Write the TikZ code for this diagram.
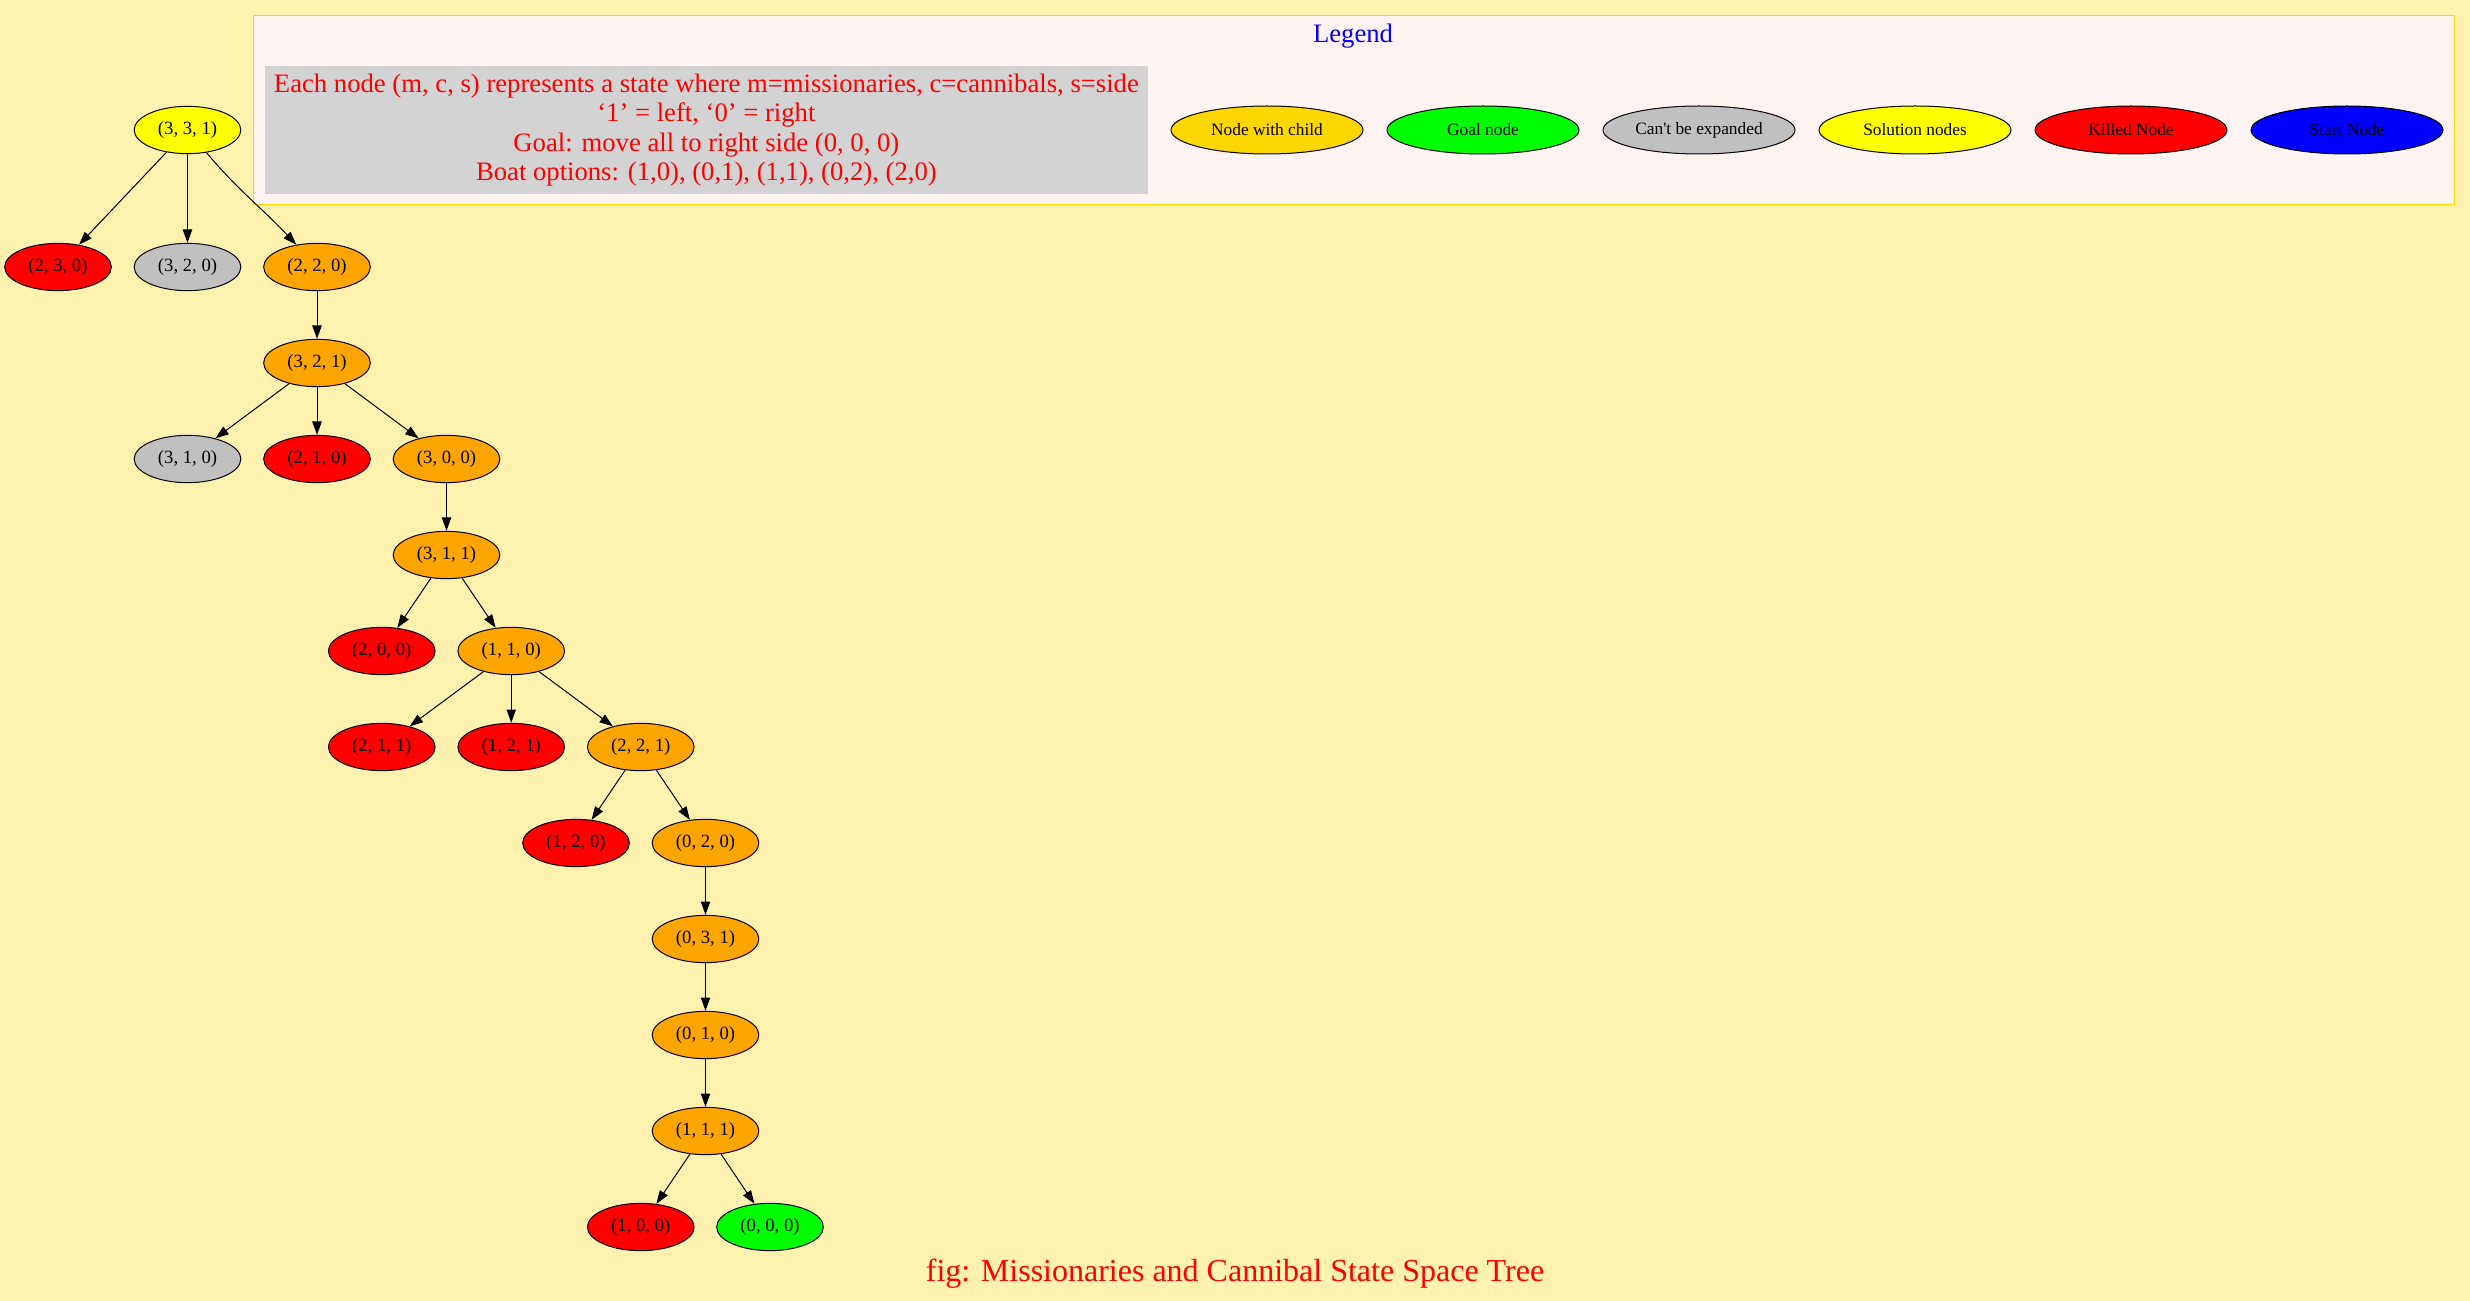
\documentclass[tikz,border=0pt]{standalone}
\usepackage{fontspec}
\setmainfont{Liberation Serif}
\newfontfamily\plainserif{Liberation Serif}[Ligatures=NoCommon]
\usetikzlibrary{arrows.meta,shapes.geometric}
\definecolor{bgc}{RGB}{255,242,175}
\definecolor{legfill}{RGB}{255,244,242}
\definecolor{legborder}{RGB}{255,215,0}
\definecolor{boxgray}{RGB}{211,211,211}
\definecolor{cgold}{RGB}{255,215,0}
\definecolor{cgreen}{RGB}{0,255,0}
\definecolor{cgray}{RGB}{192,192,192}
\definecolor{cyellow}{RGB}{255,255,0}
\definecolor{cred}{RGB}{255,0,0}
\definecolor{cblue}{RGB}{0,0,255}
\definecolor{corange}{RGB}{255,165,0}
\tikzset{
  st/.style={ellipse,draw=black,line width=0.75pt,minimum width=80pt,minimum height=35.5pt,inner sep=0pt,font=\fontsize{14}{16}\selectfont},
  lg/.style={ellipse,draw=black,line width=0.75pt,minimum width=144pt,minimum height=36pt,inner sep=0pt,font=\fontsize{13}{15}\selectfont},
  edge/.style={line width=0.75pt,-{Triangle[length=10pt,width=7pt]}},
}
\begin{document}
\begin{tikzpicture}[x=0.75pt,y=-0.75pt]
\fill[bgc] (0,0) rectangle (2470,1301);
\useasboundingbox (0,0) rectangle (2470,1301);
% legend
\node[draw=legborder,fill=legfill,line width=0.75pt,minimum width=1650.75pt,minimum height=141.75pt,inner sep=0pt,anchor=north west] (legbox) at (252.5,15.5) {};
\node[text=cblue,font=\fontsize{20}{24}\selectfont] (legtitle) at (1353,36) {Legend};
\node[fill=boxgray,minimum width=662.5pt,minimum height=96pt,inner sep=0pt,text=cred,align=center,font=\fontsize{20}{22}\selectfont] (info) at (706.4,130) {Each node (m, c, s) represents a state where m=missionaries, c=cannibals, s=side\\‘1’ = left, ‘0’ = right\\Goal: move all to right side (0, 0, 0)\\Boat options: (1,0), (0,1), (1,1), (0,2), (2,0)};
\node[lg,fill=cgold] (l1) at (1267,130) {Node with child};
\node[lg,fill=cgreen] (l2) at (1483,130) {Goal node};
\node[lg,fill=cgray] (l3) at (1699,130) {{\plainserif Can\char39 t} be expanded};
\node[lg,fill=cyellow] (l4) at (1915,130) {Solution nodes};
\node[lg,fill=cred] (l5) at (2131,130) {Killed Node};
\node[lg,fill=cblue] (l6) at (2347,130) {Start Node};
% tree
\node[st,fill=cyellow] (n331) at (187.5,130) {(3, 3, 1)};
\node[st,fill=cred] (n230) at (58,267) {(2, 3, 0)};
\node[st,fill=cgray] (n320) at (187.5,267) {(3, 2, 0)};
\node[st,fill=corange] (n220) at (317,267) {(2, 2, 0)};
\node[st,fill=corange] (n321) at (317,363) {(3, 2, 1)};
\node[st,fill=cgray] (n310) at (187.5,459) {(3, 1, 0)};
\node[st,fill=cred] (n210) at (317,459) {(2, 1, 0)};
\node[st,fill=corange] (n300) at (446.5,459) {(3, 0, 0)};
\node[st,fill=corange] (n311) at (446.5,555) {(3, 1, 1)};
\node[st,fill=cred] (n200) at (381.75,651) {(2, 0, 0)};
\node[st,fill=corange] (n110) at (511.25,651) {(1, 1, 0)};
\node[st,fill=cred] (n211) at (381.75,747) {(2, 1, 1)};
\node[st,fill=cred] (n121) at (511.25,747) {(1, 2, 1)};
\node[st,fill=corange] (n221) at (640.75,747) {(2, 2, 1)};
\node[st,fill=cred] (n120) at (576,843) {(1, 2, 0)};
\node[st,fill=corange] (n020) at (705.5,843) {(0, 2, 0)};
\node[st,fill=corange] (n031) at (705.5,939) {(0, 3, 1)};
\node[st,fill=corange] (n010) at (705.5,1035) {(0, 1, 0)};
\node[st,fill=corange] (n111) at (705.5,1131) {(1, 1, 1)};
\node[st,fill=cred] (n100) at (640.75,1227) {(1, 0, 0)};
\node[st,fill=cgreen] (n000) at (770,1227) {(0, 0, 0)};
% edges
\draw[edge] (n331) -- (n230);
\draw[edge] (n331) -- (n320);
\draw[edge] (n331) to[out=-50,in=133] (n220);
\draw[edge] (n220) -- (n321);
\draw[edge] (n321) -- (n310);
\draw[edge] (n321) -- (n210);
\draw[edge] (n321) -- (n300);
\draw[edge] (n300) -- (n311);
\draw[edge] (n311) -- (n200);
\draw[edge] (n311) -- (n110);
\draw[edge] (n110) -- (n211);
\draw[edge] (n110) -- (n121);
\draw[edge] (n110) -- (n221);
\draw[edge] (n221) -- (n120);
\draw[edge] (n221) -- (n020);
\draw[edge] (n020) -- (n031);
\draw[edge] (n031) -- (n010);
\draw[edge] (n010) -- (n111);
\draw[edge] (n111) -- (n100);
\draw[edge] (n111) -- (n000);
% caption
\node[text=cred,font=\fontsize{24}{28}\selectfont] (caption) at (1235,1274) {fig: Missionaries and Cannibal State Space Tree};
\end{tikzpicture}
\end{document}
